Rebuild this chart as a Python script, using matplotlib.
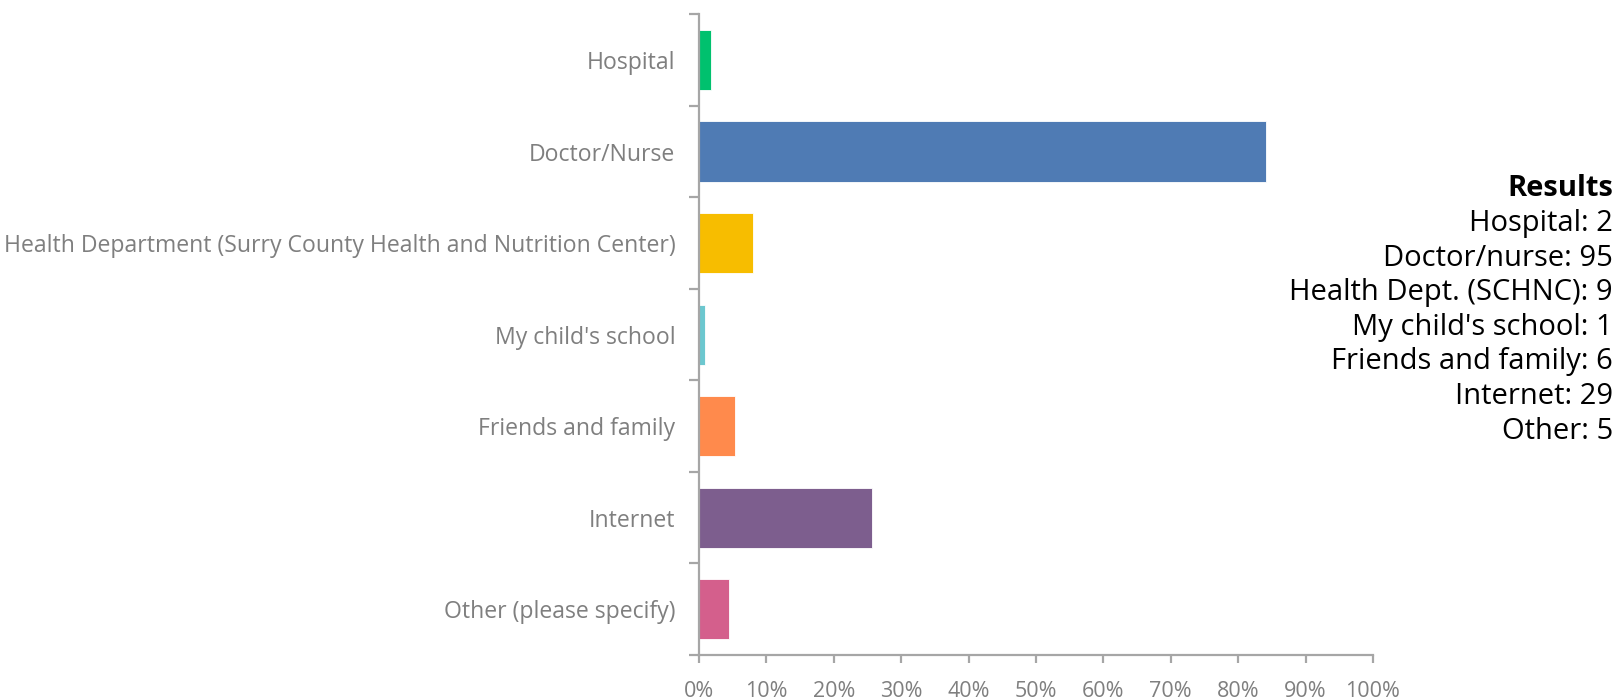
import matplotlib
matplotlib.use("Agg")
import matplotlib.pyplot as plt
from matplotlib.ticker import FuncFormatter

categories = [
    "Hospital",
    "Doctor/Nurse",
    "Health Department (Surry County Health and Nutrition Center)",
    "My child's school",
    "Friends and family",
    "Internet",
    "Other (please specify)",
]
percent = [1.8, 84.1, 8.0, 0.9, 5.3, 25.7, 4.4]
colors = ["#00c16e", "#4f7bb4", "#f7bd00", "#6cc7cf", "#ff8a4c", "#7d5e8e", "#d45f8c"]

results_title = "Results"
results_lines = [
    "Hospital: 2",
    "Doctor/nurse: 95",
    "Health Dept. (SCHNC): 9",
    "My child's school: 1",
    "Friends and family: 6",
    "Internet: 29",
    "Other: 5",
]

plt.rcParams["font.family"] = ["Open Sans", "DejaVu Sans"]

fig = plt.figure(figsize=(16.15, 7), dpi=100)
ax = fig.add_axes([0.4328, 0.0643, 0.4173, 0.9151])

ypos = list(range(len(categories)))
ax.barh(ypos, percent, height=0.66, color=colors, edgecolor="white", linewidth=0.6, zorder=2)

ax.set_ylim(len(categories) - 0.5, -0.5)
ax.set_xlim(0, 100)

axis_grey = "#a6a6a6"
label_grey = "#7f7f7f"
for side in ["top", "right"]:
    ax.spines[side].set_visible(False)
for side in ["left", "bottom"]:
    ax.spines[side].set_color(axis_grey)
    ax.spines[side].set_linewidth(1.6)

# tick marks sit on the category boundaries, labels in the middle
ax.set_yticks([i - 0.5 for i in range(len(categories) + 1)])
ax.set_yticklabels([])
ax.set_yticks(ypos, minor=True)
ax.set_yticklabels(categories, minor=True)
ax.tick_params(axis="y", which="major", length=7, width=1.6, color=axis_grey)
ax.tick_params(axis="y", which="minor", length=0, pad=17, labelsize=16.6, labelcolor=label_grey)

ax.set_xticks(range(0, 101, 10))
ax.xaxis.set_major_formatter(FuncFormatter(lambda v, p: f"{v:.0f}%"))
ax.tick_params(axis="x", length=6, width=1.6, color=axis_grey, labelsize=15.5,
               labelcolor=label_grey, pad=13)

fig.text(0.9988, 0.730, results_title, ha="right", va="center", fontsize=21,
         fontweight="bold", color="black")
for i, line in enumerate(results_lines):
    fig.text(0.9988, 0.730 - (i + 1) * 0.0494, line, ha="right", va="center",
             fontsize=21, color="black")

fig.savefig("out.png", dpi=100)
